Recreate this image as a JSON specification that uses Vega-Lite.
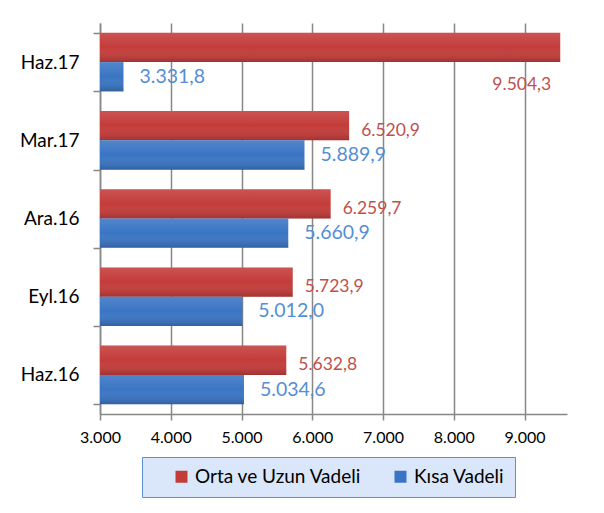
{
  "$schema": "https://vega.github.io/schema/vega-lite/v6.json",
  "width": 467,
  "height": 391,
  "autosize": {"type": "none"},
  "padding": {"left": 100, "top": 23, "right": 37, "bottom": 99},
  "background": "white",
  "config": {
    "locale": {"number": {"decimal": ",", "thousands": ".", "grouping": [3], "currency": ["", " TL"]}},
    "font": "Lato",
    "view": {"stroke": null}
  },
  "data": {
    "values": [
      {"donem": "Haz.17", "seri": "Orta ve Uzun Vadeli", "deger": 9504.3},
      {"donem": "Haz.17", "seri": "Kısa Vadeli", "deger": 3331.8},
      {"donem": "Mar.17", "seri": "Orta ve Uzun Vadeli", "deger": 6520.9},
      {"donem": "Mar.17", "seri": "Kısa Vadeli", "deger": 5889.9},
      {"donem": "Ara.16", "seri": "Orta ve Uzun Vadeli", "deger": 6259.7},
      {"donem": "Ara.16", "seri": "Kısa Vadeli", "deger": 5660.9},
      {"donem": "Eyl.16", "seri": "Orta ve Uzun Vadeli", "deger": 5723.9},
      {"donem": "Eyl.16", "seri": "Kısa Vadeli", "deger": 5012.0},
      {"donem": "Haz.16", "seri": "Orta ve Uzun Vadeli", "deger": 5632.8},
      {"donem": "Haz.16", "seri": "Kısa Vadeli", "deger": 5034.6}
    ]
  },
  "encoding": {
    "y": {
      "field": "donem",
      "type": "nominal",
      "sort": ["Haz.17", "Mar.17", "Ara.16", "Eyl.16", "Haz.16"],
      "scale": {"paddingInner": 0.25, "paddingOuter": 0.125},
      "axis": {
        "title": null,
        "tickBand": "extent",
        "domainColor": "#878787",
        "domainWidth": 1.5,
        "tickColor": "#878787",
        "tickWidth": 1.5,
        "tickSize": 7,
        "labelPadding": 14,
        "labelFontSize": 19,
        "labelColor": "#000000",
        "grid": false
      }
    },
    "yOffset": {
      "field": "seri",
      "type": "nominal",
      "sort": ["Orta ve Uzun Vadeli", "Kısa Vadeli"]
    },
    "x": {
      "field": "deger",
      "type": "quantitative",
      "scale": {"domain": [3000, 9600], "zero": false, "nice": false},
      "axis": {
        "title": null,
        "values": [3000, 4000, 5000, 6000, 7000, 8000, 9000],
        "format": ",.0f",
        "labelFlush": false,
        "grid": true,
        "gridColor": "#878787",
        "gridWidth": 1.5,
        "domainColor": "#878787",
        "domainWidth": 1.5,
        "tickColor": "#878787",
        "tickWidth": 1.5,
        "tickSize": 6,
        "labelPadding": 9,
        "labelFontSize": 16,
        "labelColor": "#000000"
      }
    }
  },
  "layer": [
    {
      "mark": {"type": "bar"},
      "encoding": {
        "x2": {"datum": 3000},
        "color": {
          "field": "seri",
          "type": "nominal",
          "scale": {"domain": ["Orta ve Uzun Vadeli", "Kısa Vadeli"], "range": ["#c43c3a", "#3a75c4"]},
          "legend": {
            "orient": "none",
            "legendX": 42,
            "legendY": 434,
            "direction": "horizontal",
            "title": null,
            "fillColor": "#dae6fa",
            "strokeColor": "#5d8fd3",
            "padding": 10,
            "symbolOffset": 20,
            "symbolType": "square",
            "symbolSize": 144,
            "symbolStrokeWidth": 0,
            "labelFontSize": 19,
            "labelLimit": 400,
            "labelColor": "#000000",
            "columnPadding": 9
          }
        }
      }
    },
    {
      "mark": {
        "type": "bar",
        "fill": {
          "gradient": "linear",
          "x1": 0, "y1": 0, "x2": 0, "y2": 1,
          "stops": [
            {"offset": 0, "color": "rgba(255,255,255,0.12)"},
            {"offset": 0.5, "color": "rgba(255,255,255,0)"},
            {"offset": 1, "color": "rgba(0,0,0,0.18)"}
          ]
        }
      },
      "encoding": {"x2": {"datum": 3000}}
    },
    {
      "transform": [{"filter": "datum.seri == 'Kısa Vadeli'"}],
      "mark": {"type": "text", "align": "left", "baseline": "middle", "dx": 16, "fontSize": 19.5, "color": "#558ed5"},
      "encoding": {"text": {"field": "deger", "type": "quantitative", "format": ",.1f"}}
    },
    {
      "transform": [{"filter": "datum.seri == 'Orta ve Uzun Vadeli' && datum.deger < 9000"}],
      "mark": {"type": "text", "align": "left", "baseline": "middle", "dx": 12, "dy": 5, "fontSize": 17.5, "color": "#c0504d"},
      "encoding": {"text": {"field": "deger", "type": "quantitative", "format": ",.1f"}}
    },
    {
      "transform": [{"filter": "datum.seri == 'Orta ve Uzun Vadeli' && datum.deger >= 9000"}],
      "mark": {"type": "text", "align": "right", "baseline": "middle", "dx": -9, "dy": 38, "fontSize": 17.5, "color": "#c0504d"},
      "encoding": {"text": {"field": "deger", "type": "quantitative", "format": ",.1f"}}
    }
  ]
}
